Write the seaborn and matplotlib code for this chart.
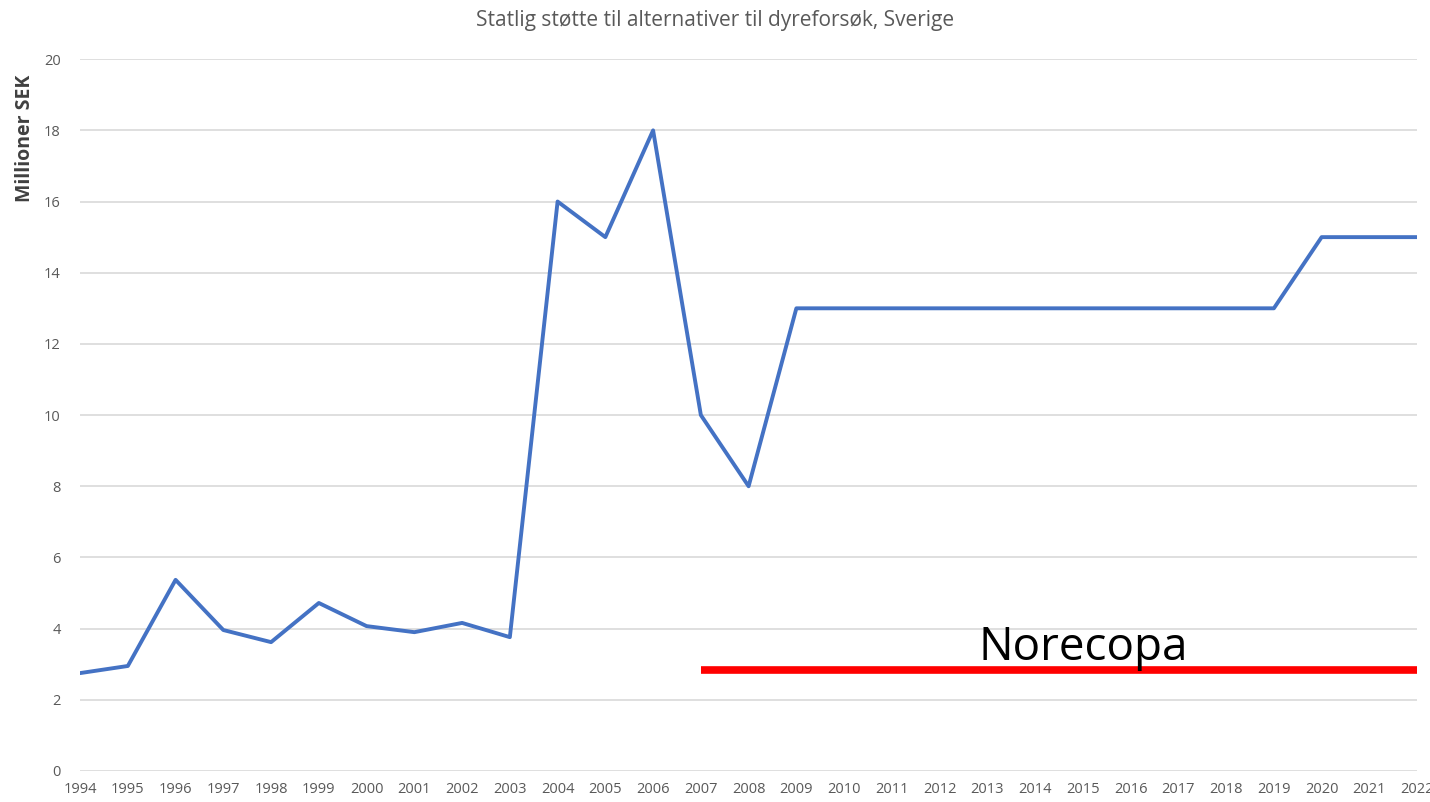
import seaborn as sns
import matplotlib.pyplot as plt
import pandas as pd

plt.switch_backend('Agg')

# Data
years = list(range(1994, 2023))
support_msek = [2.75, 2.95, 5.37, 3.96, 3.62, 4.72, 4.07, 3.9, 4.16, 3.76,
                16, 15, 18, 10, 8, 13, 13, 13, 13, 13, 13, 13, 13, 13, 13, 13,
                15, 15, 15]
norecopa_years = [2007, 2022]
norecopa_level = [2.85, 2.85]

y_ticks = list(range(0, 21, 2))

sns.set_theme(style="white")
plt.rcParams['font.family'] = ['Open Sans', 'DejaVu Sans']

df = pd.DataFrame({'year': years, 'value': support_msek})
ref = pd.DataFrame({'year': norecopa_years, 'value': norecopa_level})

fig = plt.figure(figsize=(14.3, 8.02), dpi=100)
ax = fig.add_axes([0.056, 0.0387, 0.935, 0.8875])

# light horizontal gridlines
for t in y_ticks:
    ax.axhline(t, color='#d9d9d9', linewidth=1.2, zorder=0)

sns.lineplot(data=df, x='year', y='value', ax=ax, color='#4472C4', linewidth=2.8)
sns.lineplot(data=ref, x='year', y='value', ax=ax, color='#ff0000', linewidth=5.5,
             solid_capstyle='butt')

ax.text(2015, 3.12, 'Norecopa', fontsize=33, ha='center', va='baseline',
        color='black')

ax.set_xlim(1994, 2022)
ax.set_ylim(0, 20)
ax.set_xticks(years)
ax.set_xticklabels([str(y) for y in years], fontsize=10.5, color='#595959')
ax.set_yticks(y_ticks)
ax.set_yticklabels([str(t) for t in y_ticks], fontsize=10.5, color='#595959')
ax.tick_params(axis='both', length=0, pad=8)
ax.tick_params(axis='y', pad=14)

for s in ax.spines.values():
    s.set_visible(False)

ax.set_xlabel('')
ax.set_ylabel('Millioner SEK', fontsize=14, fontweight='bold', color='#404040')
ax.yaxis.set_label_coords(-0.034, 0.889)

fig.text(0.5, 0.975, 'Statlig støtte til alternativer til dyreforsøk, Sverige',
         ha='center', va='center', fontsize=15, color='#595959')

fig.savefig('out.png', dpi=100)
plt.close(fig)
